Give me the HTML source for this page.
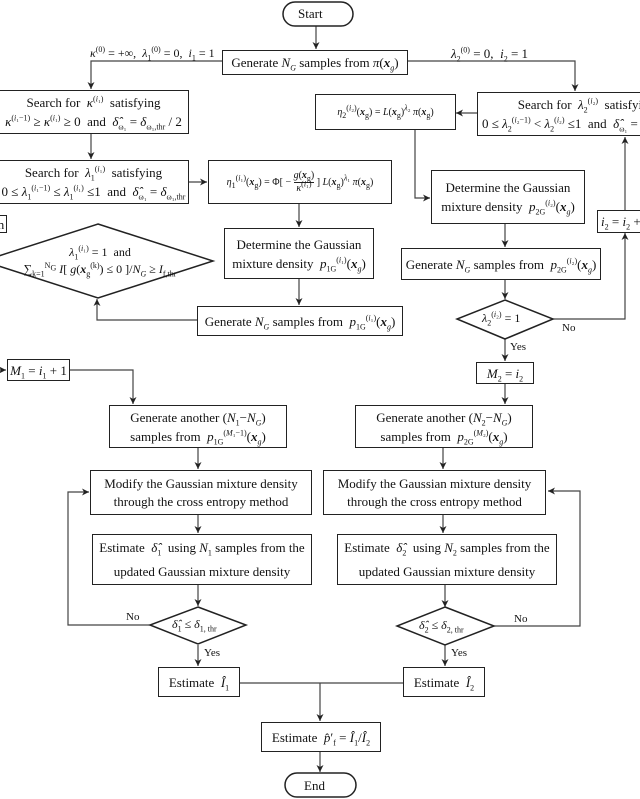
<!DOCTYPE html>
<html><head><meta charset="utf-8">
<style>
html,body{margin:0;padding:0;background:#fff;}
body{width:640px;height:799px;position:relative;overflow:hidden;font-family:"Liberation Serif",serif;font-size:13px;color:#111;}
.b{position:absolute;box-sizing:border-box;border:1.5px solid #222;background:#fff;display:flex;align-items:center;justify-content:center;text-align:center;line-height:19px;white-space:nowrap;overflow:hidden;}
.b>div{white-space:nowrap;}
.t{position:absolute;white-space:nowrap;line-height:15px;}
i{font-style:italic;}
sup,sub{font-size:8px;line-height:0;}
svg{position:absolute;left:0;top:0;}
</style></head><body>
<svg width="640" height="799" viewBox="0 0 640 799">
<defs><marker id="a" markerWidth="8" markerHeight="8" refX="7" refY="4" orient="auto" markerUnits="userSpaceOnUse"><path d="M0,0.5 L7,4 L0,7.5 L2,4z" fill="#222"/></marker></defs>
<g stroke="#444" stroke-width="1.2" fill="none">
<path d="M316,26 V49" marker-end="url(#a)"/>
<path d="M222,61 H91 V89" marker-end="url(#a)"/>
<path d="M91,134 V159" marker-end="url(#a)"/>
<path d="M189,182 H207" marker-end="url(#a)"/>
<path d="M299,204 V227" marker-end="url(#a)"/>
<path d="M299,278 V305" marker-end="url(#a)"/>
<path d="M197,320 H97 V299" marker-end="url(#a)"/>
<path d="M408,61 H575 V91" marker-end="url(#a)"/>
<path d="M477,113 H456" marker-end="url(#a)"/>
<path d="M415,130 V198 H430" marker-end="url(#a)"/>
<path d="M505,224 V247" marker-end="url(#a)"/>
<path d="M505,280 V299" marker-end="url(#a)"/>
<path d="M553,319 H625 V233" marker-end="url(#a)"/>
<path d="M625,210 V137" marker-end="url(#a)"/>
<path d="M505,339 V361" marker-end="url(#a)"/>
<path d="M505,384 V404" marker-end="url(#a)"/>
<path d="M0,370 H6" marker-end="url(#a)"/>
<path d="M70,370 H133 V404" marker-end="url(#a)"/>
<path d="M198,448 V469" marker-end="url(#a)"/>
<path d="M198,515 V533" marker-end="url(#a)"/>
<path d="M198,585 V606" marker-end="url(#a)"/>
<path d="M150,625 H68 V492 H89" marker-end="url(#a)"/>
<path d="M198,645 V666" marker-end="url(#a)"/>
<path d="M443,448 V469" marker-end="url(#a)"/>
<path d="M443,515 V533" marker-end="url(#a)"/>
<path d="M445,585 V607" marker-end="url(#a)"/>
<path d="M494,626 H580 V491 H548" marker-end="url(#a)"/>
<path d="M445,645 V666" marker-end="url(#a)"/>
<path d="M240,683 H403 M320,683 V721" marker-end="url(#a)"/>
<path d="M320,752 V772" marker-end="url(#a)"/>
</g>
<g stroke="#222" stroke-width="1.5" fill="#fff">
<rect x="283" y="2" width="70" height="24" rx="12"/>
<rect x="285" y="773" width="71" height="24" rx="12"/>
<path d="M98,224 L213,261 L98,298 L-17,261z"/>
<path d="M505,300 L553,319 L505,339 L457,319z"/>
<path d="M198,607 L246,625 L198,644 L150,625z"/>
<path d="M445,607 L494,626 L445,645 L397,626z"/>
</g>
</svg>
<div class="t" style="left:298px;top:6px;">Start</div>
<div class="t" style="left:304px;top:778px;">End</div>
<div class="b" style="left:222px;top:50px;width:186px;height:25px;"><div>Generate <i>N</i><sub><i>G</i></sub> samples from <i>π</i>(<b><i>x</i></b><sub><i>g</i></sub>)</div></div>
<div class="t" style="left:90px;top:46px;font-size:12px;"><i>κ</i><sup>(0)</sup> = +∞, &nbsp;<i>λ</i><sub>1</sub><sup>(0)</sup> = 0, &nbsp;<i>i</i><sub>1</sub> = 1</div>
<div class="t" style="left:451px;top:46px;"><i>λ</i><sub>2</sub><sup>(0)</sup> = 0, &nbsp;<i>i</i><sub>2</sub> = 1</div>
<div class="b" style="left:-2px;top:90px;width:191px;height:44px;"><div>Search for &nbsp;<i>κ</i><sup>(<i>i</i>₁)</sup>&nbsp; satisfying<br><i>κ</i><sup>(<i>i</i>₁−1)</sup> ≥ <i>κ</i><sup>(<i>i</i>₁)</sup> ≥ 0 &nbsp;and &nbsp;<i>δ̂</i><sub>ω₁</sub> = <i>δ</i><sub>ω₁,thr</sub> / 2</div></div>
<div class="b" style="left:-2px;top:160px;width:191px;height:44px;"><div>Search for &nbsp;<i>λ</i><sub>1</sub><sup>(<i>i</i>₁)</sup>&nbsp; satisfying<br>0 ≤ <i>λ</i><sub>1</sub><sup>(<i>i</i>₁−1)</sup> ≤ <i>λ</i><sub>1</sub><sup>(<i>i</i>₁)</sup> ≤1 &nbsp;and &nbsp;<i>δ̂</i><sub>ω₁</sub> = <i>δ</i><sub>ω₁,thr</sub></div></div>
<div class="b" style="left:208px;top:160px;width:184px;height:44px;font-size:10px;"><div><i>η</i><sub>1</sub><sup>(<i>i</i>₁)</sup>(<b><i>x</i></b><sub>g</sub>) = Φ[ − <span style="display:inline-block;vertical-align:middle;line-height:12px;text-align:center;"><span style="border-bottom:1px solid #222;display:block;"><i>g</i>(<b><i>x</i></b><sub>g</sub>)</span><i>κ</i><sup>(<i>i</i>₁)</sup></span> ] <i>L</i>(<b><i>x</i></b><sub>g</sub>)<sup><i>λ</i>₁</sup> <i>π</i>(<b><i>x</i></b><sub>g</sub>)</div></div>
<div class="b" style="left:224px;top:228px;width:150px;height:51px;"><div>Determine the Gaussian<br>mixture density &nbsp;<i>p</i><sub>1G</sub><sup>(<i>i</i>₁)</sup>(<b><i>x</i></b><sub><i>g</i></sub>)</div></div>
<div class="b" style="left:197px;top:306px;width:206px;height:30px;"><div>Generate <i>N</i><sub><i>G</i></sub> samples from &nbsp;<i>p</i><sub>1G</sub><sup>(<i>i</i>₁)</sup>(<b><i>x</i></b><sub><i>g</i></sub>)</div></div>
<div class="t" style="left:10px;top:244px;width:180px;text-align:center;line-height:17px;font-size:12px;"><i>λ</i><sub>1</sub><sup>(<i>i</i>₁)</sup> = 1 &nbsp;and<br>∑<sub>k=1</sub><sup>N<sub>G</sub></sup> <i>I</i>[ <i>g</i>(<b><i>x</i></b><sub>g</sub><sup>(k)</sup>) ≤ 0 ]/<i>N</i><sub><i>G</i></sub> ≥ <i>I</i><sub>f,thr</sub></div>
<div class="b" style="left:-5px;top:215px;width:12px;height:18px;"><div>n</div></div>
<div class="b" style="left:315px;top:94px;width:141px;height:36px;font-size:10px;"><div><i>η</i><sub>2</sub><sup>(<i>i</i>₂)</sup>(<b><i>x</i></b><sub>g</sub>) = <i>L</i>(<b><i>x</i></b><sub>g</sub>)<sup><i>λ</i>₂</sup> <i>π</i>(<b><i>x</i></b><sub>g</sub>)</div></div>
<div class="b" style="left:477px;top:92px;width:200px;height:44px;justify-content:flex-start;padding-left:4px;"><div style="text-align:left;">&nbsp;&nbsp;&nbsp;&nbsp;&nbsp;&nbsp;&nbsp;&nbsp;&nbsp;&nbsp;&nbsp;Search for &nbsp;<i>λ</i><sub>2</sub><sup>(<i>i</i>₂)</sup>&nbsp; satisfying<br>0 ≤ <i>λ</i><sub>2</sub><sup>(<i>i</i>₂−1)</sup> &lt; <i>λ</i><sub>2</sub><sup>(<i>i</i>₂)</sup> ≤1 &nbsp;and &nbsp;<i>δ̂</i><sub>ω₁</sub> =</div></div>
<div class="b" style="left:431px;top:170px;width:154px;height:54px;"><div>Determine the Gaussian<br>mixture density &nbsp;<i>p</i><sub>2G</sub><sup>(<i>i</i>₂)</sup>(<b><i>x</i></b><sub><i>g</i></sub>)</div></div>
<div class="b" style="left:401px;top:248px;width:200px;height:32px;"><div>Generate <i>N</i><sub><i>G</i></sub> samples from &nbsp;<i>p</i><sub>2G</sub><sup>(<i>i</i>₂)</sup>(<b><i>x</i></b><sub><i>g</i></sub>)</div></div>
<div class="b" style="left:597px;top:210px;width:60px;height:23px;justify-content:flex-start;padding-left:3px;"><div><i>i</i><sub>2</sub> = <i>i</i><sub>2</sub> + 1</div></div>
<div class="t" style="left:482px;top:311px;font-size:12px;"><i>λ</i><sub>2</sub><sup>(<i>i</i>₂)</sup> = 1</div>
<div class="t" style="left:562px;top:321px;font-size:11px;">No</div>
<div class="t" style="left:510px;top:340px;font-size:11px;">Yes</div>
<div class="b" style="left:476px;top:362px;width:58px;height:22px;"><div><i>M</i><sub>2</sub> = <i>i</i><sub>2</sub></div></div>
<div class="b" style="left:7px;top:359px;width:63px;height:22px;"><div><i>M</i><sub>1</sub> = <i>i</i><sub>1</sub> + 1</div></div>
<div class="b" style="left:109px;top:405px;width:178px;height:43px;"><div>Generate another (<i>N</i><sub>1</sub>−<i>N</i><sub><i>G</i></sub>)<br>samples from &nbsp;<i>p</i><sub>1G</sub><sup>(<i>M</i>₁−1)</sup>(<b><i>x</i></b><sub><i>g</i></sub>)</div></div>
<div class="b" style="left:355px;top:405px;width:178px;height:43px;"><div>Generate another (<i>N</i><sub>2</sub>−<i>N</i><sub><i>G</i></sub>)<br>samples from &nbsp;<i>p</i><sub>2G</sub><sup>(<i>M</i>₂)</sup>(<b><i>x</i></b><sub><i>g</i></sub>)</div></div>
<div class="b" style="left:90px;top:470px;width:222px;height:45px;line-height:18px;"><div>Modify the Gaussian mixture density<br>through the cross entropy method</div></div>
<div class="b" style="left:323px;top:470px;width:223px;height:45px;line-height:18px;"><div>Modify the Gaussian mixture density<br>through the cross entropy method</div></div>
<div class="b" style="left:92px;top:534px;width:220px;height:51px;line-height:24px;"><div>Estimate &nbsp;<i>δ̂</i><sub>1</sub>&nbsp; using <i>N</i><sub>1</sub> samples from the<br>updated Gaussian mixture density</div></div>
<div class="b" style="left:337px;top:534px;width:220px;height:51px;line-height:24px;"><div>Estimate &nbsp;<i>δ̂</i><sub>2</sub>&nbsp; using <i>N</i><sub>2</sub> samples from the<br>updated Gaussian mixture density</div></div>
<div class="t" style="left:172px;top:617px;font-size:12px;"><i>δ̂</i><sub>1</sub> ≤ <i>δ</i><sub>1, thr</sub></div>
<div class="t" style="left:419px;top:618px;font-size:12px;"><i>δ̂</i><sub>2</sub> ≤ <i>δ</i><sub>2, thr</sub></div>
<div class="t" style="left:126px;top:610px;font-size:11px;">No</div>
<div class="t" style="left:514px;top:612px;font-size:11px;">No</div>
<div class="t" style="left:204px;top:646px;font-size:11px;">Yes</div>
<div class="t" style="left:451px;top:646px;font-size:11px;">Yes</div>
<div class="b" style="left:158px;top:667px;width:82px;height:30px;"><div>Estimate &nbsp;<i>Î</i><sub>1</sub></div></div>
<div class="b" style="left:403px;top:667px;width:82px;height:30px;"><div>Estimate &nbsp;<i>Î</i><sub>2</sub></div></div>
<div class="b" style="left:261px;top:722px;width:120px;height:30px;"><div>Estimate &nbsp;<i>p̂</i>′<sub>f</sub> = <i>Î</i><sub>1</sub>/<i>Î</i><sub>2</sub></div></div>
</body></html>
